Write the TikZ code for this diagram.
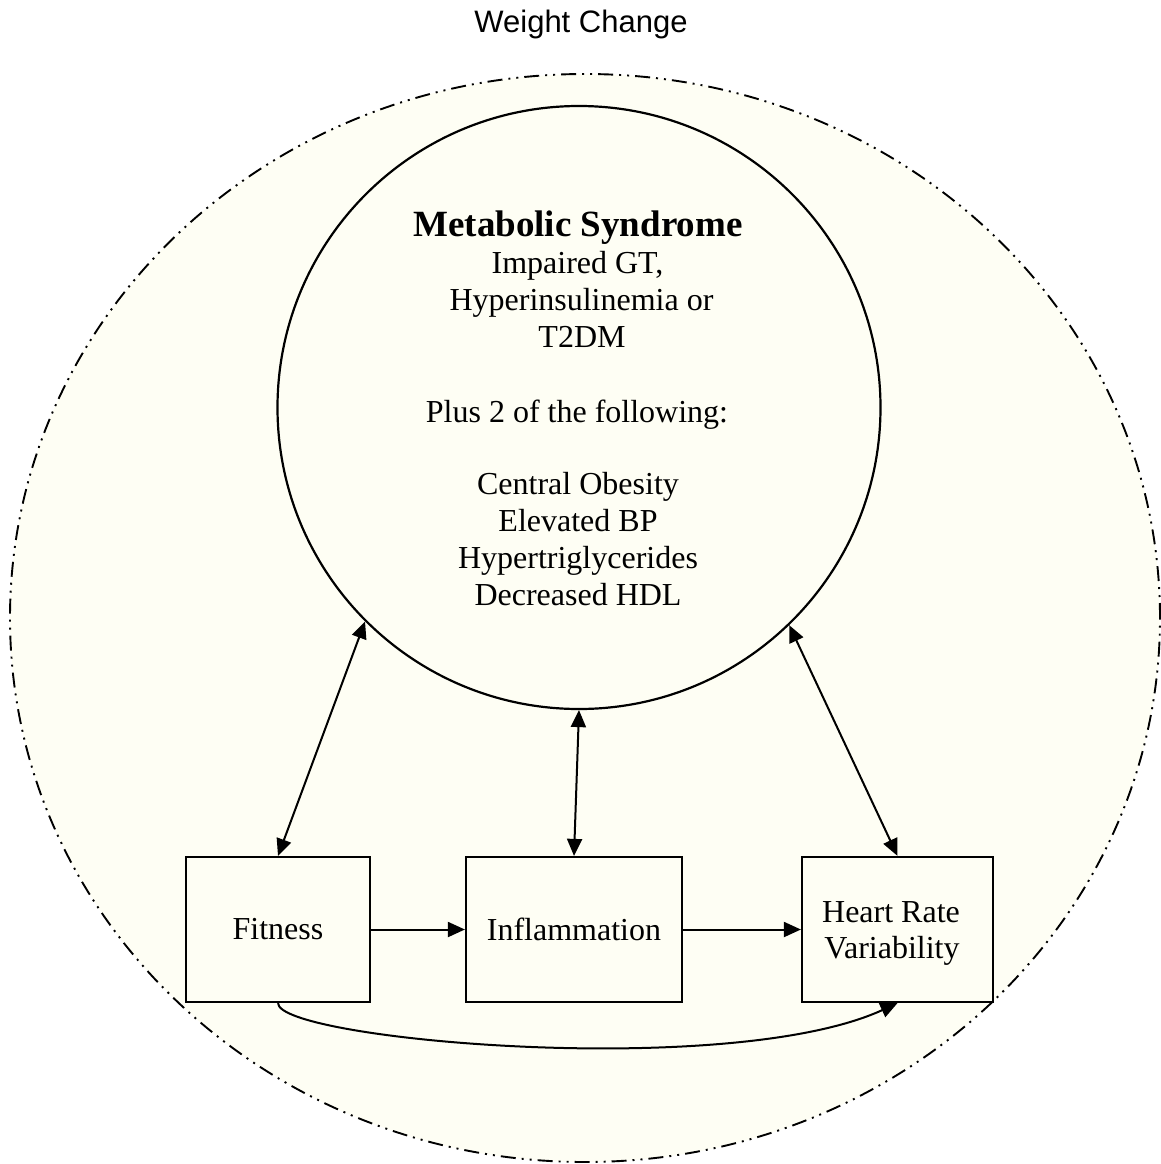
\documentclass[tikz,border=0pt]{standalone}
\usepackage{fontspec}
\setmainfont{Liberation Serif}
\newfontfamily\arialfont{Liberation Sans}
\usetikzlibrary{arrows.meta}
\definecolor{cream}{RGB}{254,254,244}
\begin{document}
\begin{tikzpicture}[x=1pt,y=-1pt,
  conn/.style={line width=2pt},
  tip/.style={-{Triangle[length=17pt,width=15pt]}},
  dtip/.style={{Triangle[length=17pt,width=15pt]}-{Triangle[length=17pt,width=15pt]}},
  boxnode/.style={draw, line width=2.2pt, inner sep=0pt, font=\fontsize{32}{37}\selectfont},
  txt/.style={anchor=base, inner sep=0pt, font=\fontsize{32}{37}\selectfont},
]
\useasboundingbox (0,0) rectangle (1161,1164);
\draw[fill=cream, line width=1.9pt, dash pattern=on 15pt off 6pt on 2pt off 6pt on 2pt off 6pt]
  (585,618) ellipse [x radius=575pt, y radius=544pt];
\node[anchor=base, inner sep=0pt, font=\arialfont\fontsize{31}{36}\selectfont] (title) at (581,33) {Weight Change};

\node[circle, draw, line width=2.2pt, minimum size=603pt, inner sep=0pt] (ms) at (579,407.5) {};
\node[txt, font=\bfseries\fontsize{37}{42}\selectfont] (t0) at (578,236) {Metabolic Syndrome};
\node[txt] (t1) at (577.5,273) {Impaired GT,};
\node[txt] (t2) at (581.5,310) {Hyperinsulinemia or};
\node[txt] (t3) at (582,347) {T2DM};
\node[txt] (t4) at (577,422) {Plus 2 of the following:};
\node[txt] (t5) at (578,494) {Central Obesity};
\node[txt] (t6) at (578,531) {Elevated BP};
\node[txt] (t7) at (578,568) {Hypertriglycerides};
\node[txt] (t8) at (578,605) {Decreased HDL};

\node[boxnode, minimum width=184pt, minimum height=145pt] (fit) at (278,929.5) {Fitness};
\node[boxnode, minimum width=216pt, minimum height=145pt] (infl) at (574,929.5) {Inflammation};
\node[boxnode, minimum width=191pt, minimum height=145pt] (hrv) at (897.5,929.5) {};
\node[txt] (hrv1) at (891,922) {Heart Rate};
\node[txt] (hrv2) at (892,958) {Variability};

\draw[conn, dtip] (ms.225) -- (fit.north);
\draw[conn, dtip] (ms.south) -- (infl.north);
\draw[conn, dtip] (ms.314.5) -- (hrv.north);
\draw[conn, tip] (fit.east) -- (infl.west);
\draw[conn, tip] (infl.east) -- (hrv.west);
\draw[conn, tip] (fit.south) .. controls (278,1040) and (730,1080) .. (hrv.south);
\end{tikzpicture}
\end{document}
